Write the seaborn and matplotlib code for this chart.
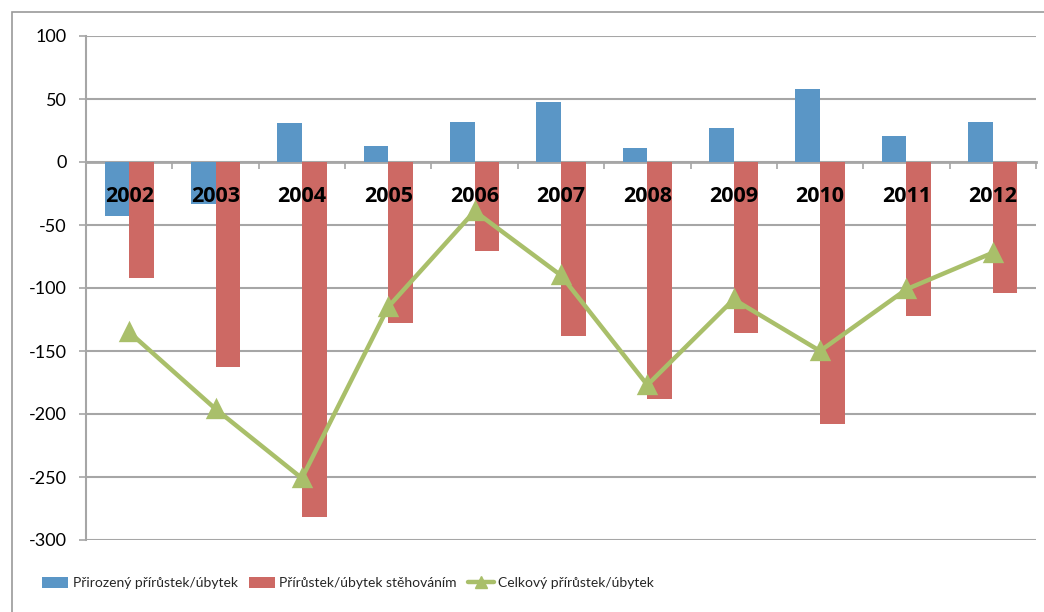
import matplotlib
matplotlib.use("Agg")
import matplotlib.pyplot as plt
import matplotlib.patches as mpatches
from matplotlib.lines import Line2D
import seaborn as sns
import pandas as pd
import numpy as np

years = ["2002", "2003", "2004", "2005", "2006", "2007", "2008", "2009", "2010", "2011", "2012"]
natural = [-43, -33, 31, 13, 32, 48, 11, 27, 58, 21, 32]
migration = [-92, -163, -282, -128, -71, -138, -188, -136, -208, -122, -104]
total = [-135, -196, -251, -115, -39, -90, -177, -109, -150, -101, -72]
series_names = ["Přirozený přírůstek/úbytek", "Přírůstek/úbytek stěhováním", "Celkový přírůstek/úbytek"]
yticks = [-300, -250, -200, -150, -100, -50, 0, 50, 100]

BLUE = "#5A96C6"
RED = "#CD6964"
GREEN = "#A9BF6A"
GRID = "#A6A6A6"

sns.set_theme(style="white")
plt.rcParams["font.family"] = ["Lato", "DejaVu Sans"]

bars = pd.DataFrame({
    "year": years * 2,
    "value": natural + migration,
    "series": [series_names[0]] * len(years) + [series_names[1]] * len(years),
})
line_df = pd.DataFrame({"year": years, "value": total})

fig = plt.figure(figsize=(10.44, 6.12), dpi=100)
ax = fig.add_axes([86 / 1044, 1 - 540 / 612, (1036 - 86) / 1044, (540 - 36) / 612])

sns.barplot(data=bars, x="year", y="value", hue="series", order=years,
            hue_order=series_names[:2], palette=[BLUE, RED], width=0.57,
            dodge=True, gap=0, edgecolor="none", linewidth=0, saturation=1,
            legend=False, ax=ax, zorder=2)
sns.pointplot(data=line_df, x="year", y="value", order=years, color=GREEN,
              markers="^", linestyles="-", markersize=11, linewidth=3.2,
              errorbar=None, ax=ax, zorder=3)

ax.set_xlim(-0.5, len(years) - 0.5)
ax.set_ylim(-300, 100)
ax.set_yticks(yticks)
ax.set_yticklabels([str(v) for v in yticks], fontsize=13, color="black")
ax.yaxis.grid(True, color=GRID, linewidth=1.5, zorder=0)
ax.set_axisbelow(True)
ax.set_xlabel("")
ax.set_ylabel("")

for s in ["top", "right"]:
    ax.spines[s].set_visible(False)
ax.spines["left"].set_color(GRID)
ax.spines["left"].set_linewidth(1.5)
ax.spines["bottom"].set_position(("data", 0))
ax.spines["bottom"].set_color(GRID)
ax.spines["bottom"].set_linewidth(2)
ax.spines["bottom"].set_zorder(1)

ax.tick_params(axis="y", which="major", left=True, length=5, width=1.2, color=GRID, pad=9)
ax.set_xticks(range(len(years)))
ax.set_xticklabels(years, fontsize=15.5, fontweight="bold", color="black",
                   family=["Open Sans", "DejaVu Sans"])
ax.set_xticks(np.arange(-0.5, len(years), 1.0), minor=True)
ax.tick_params(axis="x", which="major", bottom=True, length=0, pad=17)
ax.tick_params(axis="x", which="minor", bottom=True, length=5, width=1.2, color=GRID)
ax.xaxis.set_zorder(10)

# outer chart frame
frame = mpatches.Rectangle((12 / 1044, -0.2), 2.0, 1.2 - 12 / 612, transform=fig.transFigure,
                           fill=False, edgecolor="#9A9A9A", linewidth=1.2, clip_on=False)
fig.patches.append(frame)

handles = [
    mpatches.Patch(facecolor=BLUE, edgecolor="none"),
    mpatches.Patch(facecolor=RED, edgecolor="none"),
    Line2D([], [], color=GREEN, linewidth=3.2, marker="^", markersize=9),
]
fig.legend(handles, series_names, loc="center left",
           bbox_to_anchor=(42 / 1044, 1 - 583 / 612), ncol=3, frameon=False,
           prop={"family": ["Lato", "DejaVu Sans"], "size": 10},
           handlelength=1.9, handleheight=0.8, handletextpad=0.3, columnspacing=0.8,
           borderaxespad=0, borderpad=0)

fig.savefig("out.png", dpi=100)
